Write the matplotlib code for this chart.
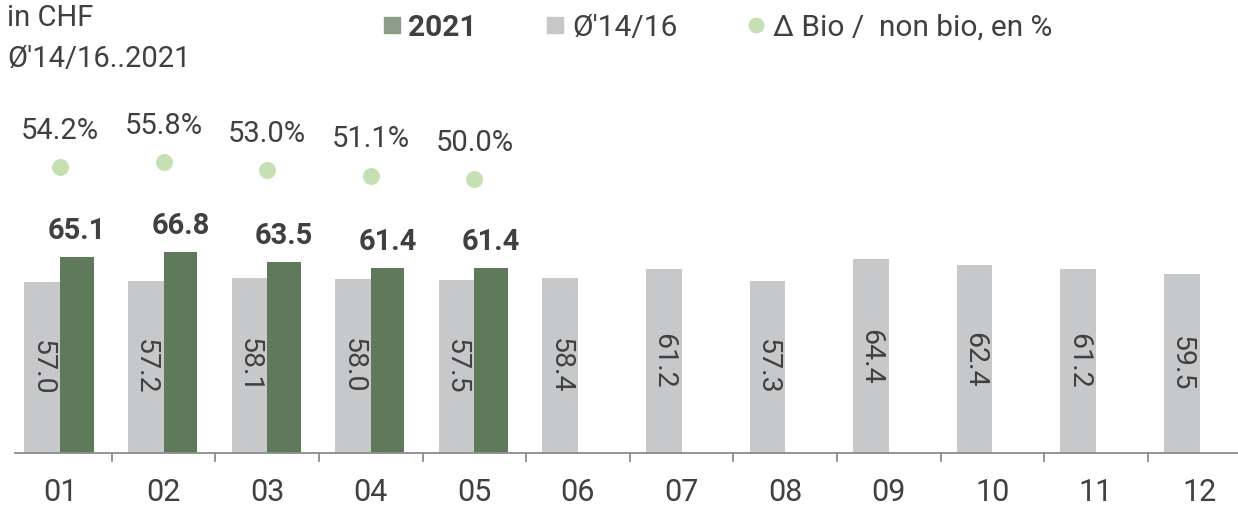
import numpy as np
import matplotlib.pyplot as plt
from matplotlib.patches import Rectangle
from matplotlib.lines import Line2D

plt.rcParams['font.family'] = ['Roboto', 'DejaVu Sans']

# Data
months = ['01', '02', '03', '04', '05', '06', '07', '08', '09', '10', '11', '12']
avg_1416 = [57.0, 57.2, 58.1, 58.0, 57.5, 58.4, 61.2, 57.3, 64.4, 62.4, 61.2, 59.5]
y2021 = [65.1, 66.8, 63.5, 61.4, 61.4]
delta_pct = [54.2, 55.8, 53.0, 51.1, 50.0]

c_green = '#5f7a5b'
c_gray = '#c7c8ca'
c_dot = '#c6e0b4'
c_text = '#404040'
c_axis = '#8c8c8c'

W, H = 1238, 509
fig = plt.figure(figsize=(W / 100, H / 100), dpi=100)
ax = fig.add_axes([15 / W, (H - 453.3) / H, 1 - 15 / W, 453.3 / H])

x = np.arange(len(months))
x5 = np.arange(len(y2021))

ax.bar(x - 0.172, avg_1416, width=0.344, color=c_gray, zorder=2)
ax.bar(x5 + 0.162, y2021, width=0.324, color=c_green, zorder=2)

for xi, v in zip(x, avg_1416):
    ax.text(xi - 0.172, v / 2, f'{v:.1f}', rotation=270, ha='center', va='center',
            fontsize=20.5, color=c_text, zorder=3)
for xi, v in zip(x5, y2021):
    ax.annotate(f'{v:.1f}', (xi + 0.162, v), xytext=(0, 19), textcoords='offset points',
                ha='center', va='center', fontsize=21, fontweight='bold', color=c_text)

ax.set_xlim(-0.434, 11.371)
ax.set_ylim(0, 150.6)

# secondary axis for the percentage dots
ax2 = ax.twinx()
ax2.set_ylim(-47.0, 113.1)
ax2.scatter(x5, delta_pct, s=150, color=c_dot, zorder=3, linewidths=0)
for xi, v in zip(x5, delta_pct):
    ax2.annotate(f'{v:.1f}%', (xi, v), xytext=(0, 26), textcoords='offset points',
                 ha='center', va='center', fontsize=21, color=c_text)
ax2.axis('off')

for s in ['top', 'left', 'right']:
    ax.spines[s].set_visible(False)
ax.spines['bottom'].set_color(c_axis)
ax.spines['bottom'].set_linewidth(1.3)
ax.set_yticks([])
ax.set_xticks(x)
ax.set_xticklabels(months, fontsize=22, color=c_text)
ax.tick_params(axis='x', which='major', length=0, pad=18)
ax.set_xticks(x[:-1] + 0.5, minor=True)
ax.tick_params(axis='x', which='minor', length=6.5, width=1.3, color=c_axis, direction='out')

# header text
fig.text(7.3 / W, 1 - 18.5 / H, 'in CHF', fontsize=21, color=c_text, ha='left', va='center')
fig.text(7.3 / W, 1 - 59 / H, "Ø'14/16..2021", fontsize=21, color=c_text, ha='left', va='center')

# legend
ly = 1 - 25 / H
fig.add_artist(Rectangle((384 / W, 1 - 33.3 / H), 16 / W, 16.6 / H,
                         transform=fig.transFigure, color='#8c9e88'))
fig.text(408.3 / W, 1 - 28 / H, '2021', fontsize=21.5, fontweight='bold', color=c_text,
         ha='left', va='center')
fig.add_artist(Rectangle((547.3 / W, 1 - 33.3 / H), 15.4 / W, 16.6 / H,
                         transform=fig.transFigure, color=c_gray))
fig.text(572.7 / W, 1 - 28 / H, "Ø'14/16", fontsize=21.5, color=c_text, ha='left', va='center')
fig.add_artist(Line2D([756 / W], [ly], marker='o', markersize=11.5, color=c_dot,
                      markeredgewidth=0, transform=fig.transFigure))
fig.text(773.3 / W, 1 - 28 / H, 'Δ Bio /  non bio, en %', fontsize=21.5, color=c_text,
         ha='left', va='center')

fig.savefig('out.png', dpi=100)
